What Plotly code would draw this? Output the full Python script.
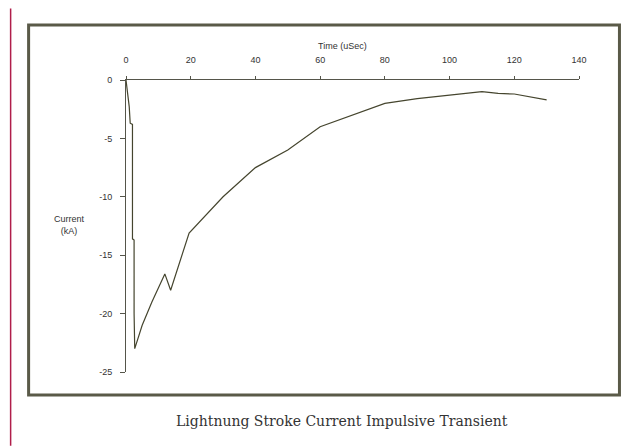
import plotly.graph_objects as go

time_us = [0, 0.5, 1.0, 1.3, 2.0, 2.0, 2.5, 2.5, 2.7, 5, 8, 12, 13.8, 19.5, 30, 40, 50, 60, 70, 80, 90, 100, 110, 115, 120, 130]
current_ka = [0, -1.0, -2.3, -3.7, -3.8, -13.6, -13.7, -20.0, -23.0, -21.0, -19.0, -16.6, -18.0, -13.1, -10.0, -7.5, -6.0, -4.0, -3.0, -2.0, -1.6, -1.3, -1.0, -1.15, -1.2, -1.7]

x_ticks = [0, 20, 40, 60, 80, 100, 120, 140]
y_ticks = [0, -5, -10, -15, -20, -25]

x_title = "Time (uSec)"
y_title = "Current<br>(kA)"
caption = "Lightnung Stroke Current Impulsive Transient"

W, H = 631, 446
L, R, T, B = 126, 51.5, 79.5, 74
pw = W - L - R
ph = H - T - B

def px(xp):
    return (xp - L) / pw

def py(yp):
    return (H - B - yp) / ph

fig = go.Figure()
fig.add_trace(go.Scatter(x=time_us, y=current_ka, mode="lines",
                         line=dict(color="#45452e", width=1.2),
                         showlegend=False, hoverinfo="skip"))

axis_col = "#55554a"
tick_font = dict(family="Liberation Sans, Arial", size=9, color="#333333")

fig.update_layout(
    width=W, height=H, autosize=False,
    margin=dict(l=L, r=R, t=T, b=B, pad=0),
    paper_bgcolor="white", plot_bgcolor="white",
    xaxis=dict(range=[0, 140], side="top", tickvals=x_ticks,
               ticktext=[str(v) for v in x_ticks],
               showline=True, linecolor=axis_col, linewidth=1,
               ticks="outside", ticklen=3, tickcolor=axis_col,
               ticklabelstandoff=9,
               showgrid=False, zeroline=False, tickfont=tick_font),
    yaxis=dict(range=[-25, 0], tickvals=y_ticks,
               ticktext=[str(v) for v in y_ticks],
               showline=True, linecolor=axis_col, linewidth=1,
               ticks="outside", ticklen=5, tickcolor=axis_col,
               ticklabelstandoff=6,
               showgrid=False, zeroline=False, tickfont=tick_font),
    shapes=[
        dict(type="rect", xref="paper", yref="paper",
             x0=px(28.5), x1=px(620), y0=py(395), y1=py(24.5),
             line=dict(color="#5a5a48", width=3), fillcolor="rgba(0,0,0,0)",
             layer="below"),
        dict(type="line", xref="paper", yref="paper",
             x0=px(10.5), x1=px(10.5), y0=py(8), y1=py(446),
             line=dict(color="#b01e4a", width=1.5)),
    ],
    annotations=[
        dict(text=x_title, xref="paper", yref="paper", x=px(343), y=py(45),
             xanchor="center", yanchor="middle",
             showarrow=False, font=dict(family="Liberation Sans, Arial", size=9, color="#333333")),
        dict(text=y_title, xref="paper", yref="paper", x=px(69), y=py(225),
             xanchor="center", yanchor="middle",
             showarrow=False, font=dict(family="Liberation Sans, Arial", size=9, color="#333333")),
        dict(text=caption, xref="paper", yref="paper", x=px(342.5), y=py(421),
             xanchor="center", yanchor="middle",
             showarrow=False, font=dict(family="DejaVu Serif", size=14, color="#333333")),
    ],
)

fig.write_html("out.html")
